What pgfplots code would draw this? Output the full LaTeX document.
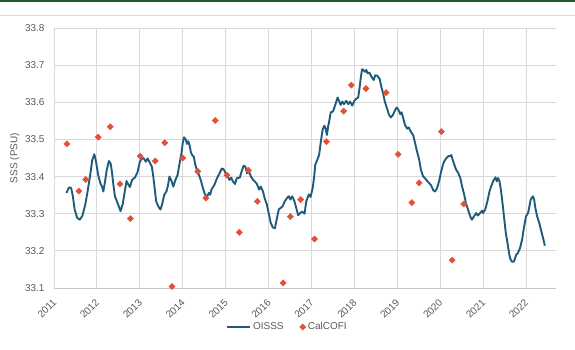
\documentclass[border=0pt]{standalone}
\usepackage{pgfplots}
\pgfplotsset{compat=1.18}
\usepackage{pgfplotstable}
\usepackage{fontspec}
\setmainfont{Liberation Sans}

\definecolor{oisss}{RGB}{31,92,122}
\definecolor{calcofi}{RGB}{228,80,55}
\definecolor{ticktext}{RGB}{89,89,89}
\definecolor{gridc}{RGB}{217,217,217}
\definecolor{topbar}{RGB}{30,90,50}

% OISSS sea surface salinity time series (decimal year, PSU)
\pgfplotstableread{
year sss
2011.29 33.356
2011.35 33.371
2011.40 33.369
2011.44 33.347
2011.48 33.312
2011.54 33.289
2011.60 33.284
2011.66 33.294
2011.73 33.325
2011.79 33.365
2011.85 33.409
2011.89 33.444
2011.94 33.460
2011.98 33.440
2012.03 33.404
2012.08 33.382
2012.12 33.373
2012.15 33.360
2012.19 33.387
2012.23 33.418
2012.28 33.442
2012.32 33.435
2012.35 33.413
2012.38 33.382
2012.42 33.347
2012.46 33.335
2012.51 33.320
2012.55 33.307
2012.60 33.325
2012.65 33.360
2012.69 33.388
2012.74 33.377
2012.77 33.372
2012.82 33.391
2012.89 33.398
2012.95 33.413
2013.00 33.440
2013.05 33.449
2013.09 33.449
2013.14 33.440
2013.18 33.449
2013.23 33.438
2013.28 33.427
2013.31 33.404
2013.35 33.365
2013.38 33.334
2013.43 33.320
2013.48 33.311
2013.52 33.325
2013.57 33.351
2013.62 33.360
2013.66 33.378
2013.69 33.400
2013.74 33.388
2013.78 33.373
2013.83 33.391
2013.88 33.404
2013.92 33.431
2013.97 33.462
2014.00 33.490
2014.03 33.506
2014.07 33.500
2014.10 33.488
2014.13 33.495
2014.16 33.484
2014.19 33.466
2014.22 33.458
2014.26 33.453
2014.29 33.433
2014.33 33.418
2014.38 33.404
2014.43 33.387
2014.47 33.369
2014.52 33.351
2014.57 33.347
2014.61 33.356
2014.64 33.351
2014.67 33.365
2014.74 33.378
2014.80 33.396
2014.86 33.409
2014.91 33.422
2014.95 33.420
2015.00 33.409
2015.05 33.400
2015.09 33.391
2015.13 33.397
2015.17 33.387
2015.22 33.380
2015.26 33.396
2015.33 33.397
2015.37 33.413
2015.42 33.429
2015.46 33.427
2015.50 33.409
2015.54 33.415
2015.59 33.400
2015.64 33.391
2015.68 33.387
2015.73 33.380
2015.78 33.365
2015.82 33.373
2015.87 33.360
2015.91 33.342
2015.96 33.325
2016.01 33.298
2016.05 33.276
2016.10 33.263
2016.15 33.261
2016.19 33.285
2016.24 33.312
2016.29 33.316
2016.33 33.320
2016.38 33.334
2016.43 33.342
2016.47 33.347
2016.51 33.338
2016.55 33.347
2016.60 33.335
2016.64 33.318
2016.69 33.296
2016.74 33.302
2016.78 33.306
2016.84 33.300
2016.88 33.334
2016.94 33.352
2016.98 33.345
2017.03 33.370
2017.06 33.396
2017.09 33.432
2017.14 33.446
2017.18 33.459
2017.22 33.495
2017.26 33.526
2017.30 33.537
2017.33 33.530
2017.36 33.512
2017.39 33.535
2017.42 33.553
2017.45 33.573
2017.50 33.575
2017.53 33.584
2017.58 33.602
2017.61 33.613
2017.65 33.602
2017.68 33.593
2017.72 33.602
2017.76 33.595
2017.81 33.604
2017.86 33.595
2017.90 33.602
2017.95 33.591
2018.00 33.604
2018.04 33.609
2018.09 33.613
2018.12 33.637
2018.15 33.666
2018.18 33.689
2018.21 33.687
2018.25 33.682
2018.28 33.687
2018.31 33.678
2018.35 33.680
2018.40 33.669
2018.45 33.660
2018.49 33.673
2018.54 33.671
2018.59 33.663
2018.62 33.646
2018.67 33.624
2018.71 33.602
2018.76 33.584
2018.81 33.566
2018.85 33.559
2018.90 33.566
2018.95 33.579
2018.99 33.586
2019.04 33.577
2019.07 33.568
2019.10 33.573
2019.14 33.557
2019.18 33.539
2019.23 33.529
2019.27 33.532
2019.32 33.520
2019.37 33.512
2019.41 33.493
2019.46 33.468
2019.51 33.446
2019.55 33.419
2019.60 33.401
2019.65 33.395
2019.69 33.389
2019.74 33.383
2019.79 33.376
2019.84 33.363
2019.88 33.360
2019.93 33.369
2019.98 33.390
2020.02 33.412
2020.06 33.430
2020.09 33.440
2020.14 33.449
2020.19 33.455
2020.23 33.455
2020.26 33.458
2020.29 33.446
2020.33 33.432
2020.37 33.419
2020.42 33.410
2020.47 33.396
2020.51 33.374
2020.56 33.351
2020.60 33.329
2020.65 33.311
2020.70 33.293
2020.74 33.284
2020.79 33.293
2020.84 33.302
2020.88 33.295
2020.93 33.302
2020.98 33.308
2021.00 33.302
2021.05 33.311
2021.10 33.333
2021.15 33.360
2021.19 33.374
2021.24 33.389
2021.29 33.398
2021.32 33.387
2021.35 33.396
2021.38 33.389
2021.41 33.369
2021.44 33.342
2021.47 33.311
2021.50 33.279
2021.53 33.248
2021.57 33.221
2021.60 33.198
2021.63 33.180
2021.67 33.171
2021.72 33.171
2021.77 33.189
2021.81 33.194
2021.86 33.207
2021.91 33.230
2021.95 33.261
2022.00 33.293
2022.05 33.302
2022.08 33.320
2022.11 33.338
2022.16 33.347
2022.19 33.338
2022.22 33.315
2022.26 33.293
2022.31 33.275
2022.36 33.252
2022.40 33.234
2022.44 33.214
}\oisssdata

% CalCOFI cruise surface salinity samples
\pgfplotstableread{
year sss
2011.30 33.488
2011.58 33.361
2011.74 33.392
2012.03 33.506
2012.31 33.534
2012.54 33.380
2012.78 33.287
2013.01 33.455
2013.36 33.442
2013.58 33.491
2013.75 33.104
2014.00 33.450
2014.35 33.414
2014.54 33.342
2014.76 33.551
2015.03 33.404
2015.32 33.250
2015.53 33.417
2015.74 33.333
2016.34 33.114
2016.51 33.292
2016.75 33.338
2017.07 33.232
2017.35 33.494
2017.75 33.576
2017.93 33.646
2018.27 33.637
2018.74 33.626
2019.02 33.460
2019.34 33.330
2019.51 33.383
2020.03 33.521
2020.28 33.175
2020.55 33.326
}\calcofidata

\begin{document}
\fontsize{10bp}{12bp}\selectfont
\begin{tikzpicture}
\path[use as bounding box] (0,0) rectangle (575bp,350bp);
\fill[topbar] (0,348.4bp) rectangle (575bp,350bp);
\draw[gridc, line width=0.8bp] (0,335bp) -- (575bp,335bp);
\begin{axis}[
  at={(54bp,62bp)}, anchor=south west,
  width=502bp, height=260bp, scale only axis,
  xmin=2011, xmax=2022.70,
  ymin=33.1, ymax=33.8,
  xtick={2011,...,2022},
  ytick={33.1,33.2,...,33.8},
  xticklabel={\pgfmathprintnumber[1000 sep={},fixed,precision=0]{\tick}},
  yticklabel={\pgfmathprintnumber[fixed,fixed zerofill,precision=1]{\tick}},
  /pgf/number format/assume math mode=true,
  tick style={draw=none},
  xmajorgrids, ymajorgrids,
  major grid style={gridc, line width=0.8bp},
  axis line style={draw=none},
  % the shifts act along the rotated label's own axes
  xticklabel style={rotate=45, anchor=north east, text=ticktext, font=\fontsize{10bp}{12bp}\selectfont, inner sep=0bp, xshift=-8.5bp, yshift=-5.7bp},
  yticklabel style={text=ticktext, font=\fontsize{10bp}{12bp}\selectfont, anchor=east, xshift=-6bp},
  ylabel={SSS (PSU)},
  ylabel style={text=ticktext, font=\fontsize{10bp}{12bp}\selectfont, at={(axis description cs:-0.078,0.5)}, anchor=center},
  legend columns=2,
  legend style={at={(0.465,-0.15)}, anchor=center, draw=none, fill=none,
    font=\fontsize{10bp}{12bp}\selectfont, text=ticktext,
    /tikz/every even column/.append style={column sep=14bp}},
  legend cell align=left,
  clip=false,
]
\draw[gray!45, line width=0.8bp] (axis cs:2011,33.1) -- (axis cs:2022.70,33.1);
\addplot[oisss, line width=1.9bp, line join=round, no markers,
  legend image code/.code={\draw[oisss, line width=1.9bp] (0bp,0bp) -- (23bp,0bp);}]
  table[x=year, y=sss] {\oisssdata};
\addlegendentry{OISSS}
\addplot[only marks, mark=square*, mark size=2.2bp,
  mark options={rotate=45, fill=calcofi, draw=calcofi}]
  table[x=year, y=sss] {\calcofidata};
\addlegendentry{CalCOFI}
\end{axis}
\end{tikzpicture}
\end{document}
